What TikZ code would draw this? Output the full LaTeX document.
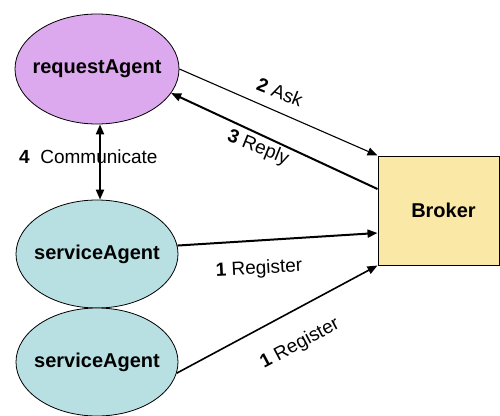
\documentclass[tikz,border=0pt]{standalone}
\usepackage{fontspec}
\setmainfont{Liberation Sans}
\usetikzlibrary{arrows.meta,shapes.geometric}
\definecolor{reqfill}{HTML}{DDA9EE}
\definecolor{srvfill}{HTML}{B8E0E3}
\definecolor{brkfill}{HTML}{F9E8A6}
\newcommand{\zw}[1]{\makebox[0pt]{#1}}
\tikzset{
  agent/.style={ellipse,draw=black,line width=0.8pt,inner sep=0pt,
    font=\fontsize{20}{24}\selectfont\bfseries},
  brokerbox/.style={rectangle,draw=black,line width=1pt,fill=brkfill,inner sep=0pt,
    minimum width=121pt,minimum height=109pt,
    font=\fontsize{20}{24}\selectfont\bfseries},
  msg/.style={-{Triangle[length=10pt,width=8pt]}},
  lbl/.style={font=\fontsize{19}{22}\selectfont,inner sep=0pt}
}
\begin{document}
\begin{tikzpicture}[x=1pt,y=-1pt]
\useasboundingbox (0,0) rectangle (500,415);
\node[agent,fill=reqfill,minimum width=164pt,minimum height=110pt] (req) at (97,69) {\zw{requestAgent}};
\node[agent,fill=srvfill,minimum width=162pt,minimum height=108pt] (sa1) at (97,254) {\zw{serviceAgent}};
\node[agent,fill=srvfill,minimum width=162pt,minimum height=108pt] (sa2) at (97,362) {\zw{serviceAgent}};
\node[brokerbox] (brk) at (438.5,210.5) {\hspace*{10pt}Broker};
\coordinate (replyout) at ([yshift=21.5pt]brk.west);
\coordinate (reg1in) at ([yshift=-22.5pt]brk.west);
\draw[msg,line width=1.1pt] (req.east) -- (brk.north west);
\draw[msg,line width=2pt] (replyout) -- (req.-18);
\draw[msg,line width=2pt] (sa1.6) -- (reg1in);
\draw[msg,line width=1.6pt] (sa2.-8) -- (brk.south west);
\draw[{Triangle[length=10pt,width=8pt]}-{Triangle[length=10pt,width=8pt]},line width=2pt] ([xshift=3pt]req.south) -- ([xshift=3pt]sa1.north);
\node[lbl,rotate=-22] (lask) at (280,92) {\textbf{2} Ask};
\node[lbl,rotate=-22] (lreply) at (258,148) {\textbf{3} Reply};
\node[lbl,rotate=3] (lreg1) at (259,269) {\textbf{1} Register};
\node[lbl,rotate=28] (lreg2) at (300,344) {\textbf{1} Register};
\node[lbl,anchor=west] (lcomm) at (19,157) {\textbf{4}\ \ Communicate};
\end{tikzpicture}
\end{document}
